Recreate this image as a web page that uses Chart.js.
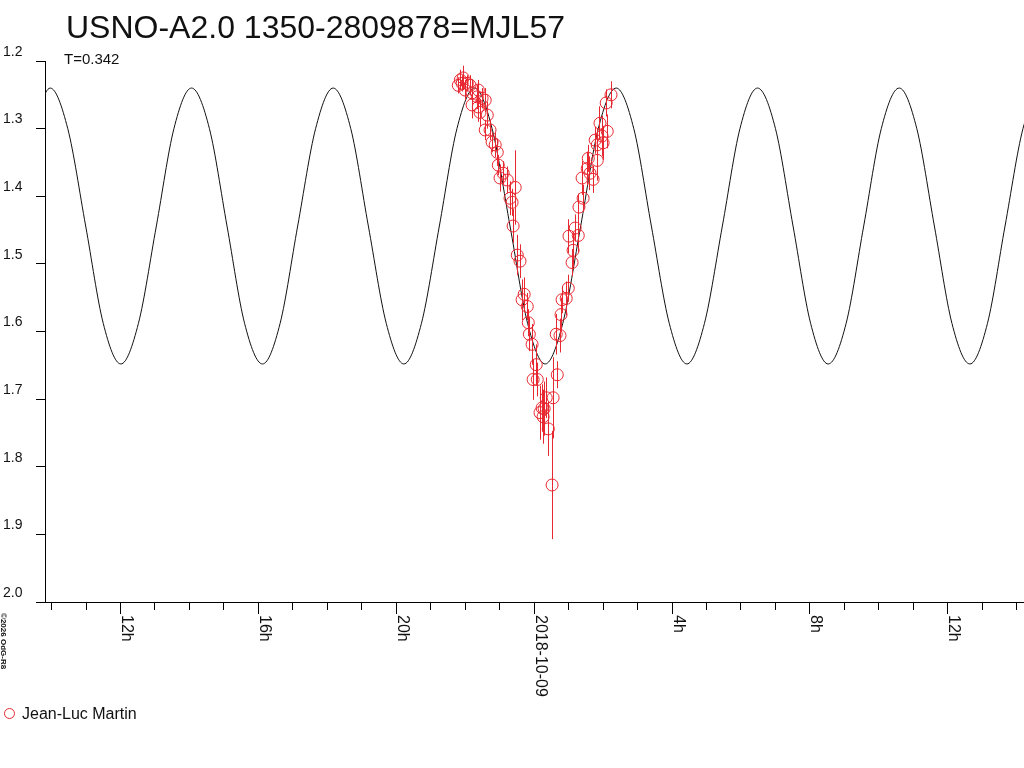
<!DOCTYPE html>
<html>
<head>
<meta charset="utf-8">
<script src="https://cdn.jsdelivr.net/npm/chart.js@4.4.1/dist/chart.umd.min.js"></script>
<style>
  body { margin: 0; background: #fff; }
  #lc { display: block; }
</style>
</head>
<body>
<canvas id="lc" width="1024" height="768"></canvas>
<script>
// hours relative to 2018-10-09 00:00 UT
const titleText = 'USNO-A2.0 1350-2809878=MJL57';
const periodText = 'T=0.342';
const observer = 'Jean-Luc Martin';

const xTickHours = [-12, -8, -4, 0, 4, 8, 12];
const xTickLabels = ['12h', '16h', '20h', '2018-10-09', '4h', '8h', '12h'];

// model light curve
const curveTime = [-14.55, -14.04, -13.53, -13.01, -12.50, -11.99, -11.48, -10.96, -10.45,
  -9.94, -9.42, -8.91, -8.40, -7.88, -7.37, -6.86, -6.34,
  -5.83, -5.32, -4.81, -4.29, -3.78, -3.27, -2.75, -2.24,
  -1.73, -1.22, -0.70, -0.19, 0.32, 0.83, 1.35, 1.86,
  2.38, 2.89, 3.40, 3.92, 4.43, 4.94, 5.46, 5.97,
  6.48, 7.00, 7.51, 8.02, 8.53, 9.05, 9.56, 10.07,
  10.59, 11.10, 11.61, 12.12, 12.64, 13.15, 13.66, 14.18, 14.69];
const curveMag = [1.300,
  1.240, 1.300, 1.444, 1.588, 1.648, 1.588, 1.444, 1.300,
  1.240, 1.300, 1.444, 1.588, 1.648, 1.588, 1.444, 1.300,
  1.240, 1.300, 1.444, 1.588, 1.648, 1.588, 1.444, 1.300,
  1.240, 1.300, 1.444, 1.588, 1.648, 1.588, 1.444, 1.300,
  1.240, 1.300, 1.444, 1.588, 1.648, 1.588, 1.444, 1.300,
  1.240, 1.300, 1.444, 1.588, 1.648, 1.588, 1.444, 1.300,
  1.240, 1.300, 1.444, 1.588, 1.648, 1.588, 1.444, 1.300,
  1.240];

// observations
const obsTime = [-2.20, -2.14, -2.09, -2.06, -2.00, -1.94, -1.86, -1.80, -1.80, -1.65,
  -1.62, -1.62, -1.57, -1.51, -1.42, -1.42, -1.36, -1.28, -1.22, -1.13,
  -1.07, -1.04, -0.99, -0.90, -0.78, -0.70, -0.64, -0.61, -0.55, -0.49,
  -0.41, -0.35, -0.29, -0.20, -0.17, -0.14, -0.06, -0.03, 0.06, 0.09,
  0.17, 0.23, 0.26, 0.29, 0.35, 0.41, 0.52, 0.55, 0.64, 0.67,
  0.75, 0.78, 0.81, 0.93, 0.99, 1.01, 1.10, 1.13, 1.19, 1.28,
  1.30, 1.39, 1.42, 1.54, 1.57, 1.62, 1.71, 1.77, 1.83, 1.83,
  1.91, 1.97, 2.00, 2.09, 2.12, 2.23];
const obsMag = [1.236, 1.228, 1.233, 1.225, 1.243, 1.233, 1.236, 1.247, 1.265, 1.253,
  1.243, 1.268, 1.276, 1.255, 1.258, 1.302, 1.280, 1.302, 1.320, 1.324,
  1.335, 1.354, 1.373, 1.366, 1.376, 1.403, 1.409, 1.444, 1.387, 1.487,
  1.496, 1.553, 1.545, 1.563, 1.587, 1.604, 1.619, 1.671, 1.649, 1.671,
  1.720, 1.713, 1.726, 1.714, 1.698, 1.744, 1.827, 1.698, 1.604, 1.664,
  1.606, 1.575, 1.553, 1.551, 1.536, 1.459, 1.498, 1.480, 1.447, 1.458,
  1.416, 1.373, 1.403, 1.359, 1.344, 1.366, 1.375, 1.317, 1.324, 1.347,
  1.292, 1.311, 1.321, 1.262, 1.304, 1.250];
const obsErr = [0.012, 0.015, 0.012, 0.018, 0.015, 0.012, 0.015, 0.020, 0.020, 0.018,
  0.015, 0.022, 0.020, 0.015, 0.018, 0.015, 0.020, 0.015, 0.015, 0.018,
  0.020, 0.015, 0.020, 0.018, 0.020, 0.025, 0.020, 0.025, 0.055, 0.030,
  0.025, 0.030, 0.025, 0.020, 0.020, 0.025, 0.030, 0.030, 0.030, 0.025,
  0.040, 0.035, 0.040, 0.040, 0.030, 0.040, 0.080, 0.060, 0.030, 0.020,
  0.025, 0.025, 0.020, 0.025, 0.020, 0.025, 0.020, 0.025, 0.020, 0.025,
  0.020, 0.025, 0.020, 0.025, 0.020, 0.025, 0.020, 0.020, 0.025, 0.030,
  0.025, 0.030, 0.025, 0.020, 0.025, 0.020];

const red = 'rgb(232,40,48)';
const fontName = "'Liberation Sans', Arial, sans-serif";

const curvePts = curveTime.map((t, i) => ({x: t, y: curveMag[i]}));
const obsPts = obsTime.map((t, i) => ({x: t, y: obsMag[i]}));

// same rounding chart.js uses for 1px lines
const crisp = p => Math.round(p - 0.5) + 0.5;

const decor = {
  id: 'decor',
  afterDatasetsDraw(chart) {
    const ctx = chart.ctx, xs = chart.scales.x, ys = chart.scales.y;
    ctx.save();
    ctx.strokeStyle = red;
    ctx.lineWidth = 1;
    ctx.beginPath();
    for (let i = 0; i < obsTime.length; i++) {
      const px = crisp(xs.getPixelForValue(obsTime[i]));
      ctx.moveTo(px, ys.getPixelForValue(obsMag[i] - obsErr[i]));
      ctx.lineTo(px, ys.getPixelForValue(obsMag[i] + obsErr[i]));
    }
    ctx.stroke();
    ctx.restore();
  },
  afterDraw(chart) {
    const ctx = chart.ctx, xs = chart.scales.x;
    const bottom = chart.chartArea.bottom;
    ctx.save();
    ctx.fillStyle = '#111';
    ctx.font = '32px ' + fontName;
    ctx.textBaseline = 'alphabetic';
    ctx.fillText(titleText, 66, 38);
    ctx.font = '15px ' + fontName;
    ctx.fillText(periodText, 64, 64);

    // longer major ticks + rotated labels
    ctx.strokeStyle = '#000';
    ctx.lineWidth = 1;
    ctx.font = '16px ' + fontName;
    xTickHours.forEach((h, i) => {
      const px = crisp(xs.getPixelForValue(h));
      ctx.beginPath();
      ctx.moveTo(px, bottom);
      ctx.lineTo(px, bottom + 12);
      ctx.stroke();
      ctx.save();
      ctx.translate(px + 1, bottom + 13);
      ctx.rotate(Math.PI / 2);
      ctx.textAlign = 'left';
      ctx.fillText(xTickLabels[i], 0, 0);
      ctx.restore();
    });

    // small credit, rotated
    ctx.save();
    ctx.font = 'bold 8px ' + fontName;
    ctx.translate(1, 613);
    ctx.rotate(Math.PI / 2);
    ctx.fillText('\u00a92026 OdG-R8', 0, 0);
    ctx.restore();

    // legend
    ctx.strokeStyle = red;
    ctx.beginPath();
    ctx.arc(9.5, 713.5, 5, 0, Math.PI * 2);
    ctx.stroke();
    ctx.font = '16px ' + fontName;
    ctx.fillStyle = '#111';
    ctx.fillText(observer, 22, 719);
    ctx.restore();
  }
};

new Chart(document.getElementById('lc'), {
  type: 'scatter',
  data: {
    datasets: [
      {
        label: observer,
        data: obsPts,
        pointStyle: 'circle',
        pointRadius: 6,
        pointHoverRadius: 6,
        borderWidth: 1,
        borderColor: red,
        backgroundColor: 'rgba(0,0,0,0)',
        order: 0
      },
      {
        label: 'model',
        data: curvePts,
        showLine: true,
        pointRadius: 0,
        borderColor: '#111',
        borderWidth: 1,
        cubicInterpolationMode: 'monotone',
        order: 1
      }
    ]
  },
  options: {
    responsive: false,
    devicePixelRatio: 1,
    animation: false,
    events: [],
    layout: { autoPadding: false, padding: { left: 3, top: 61, right: 0, bottom: 0 } },
    plugins: {
      legend: { display: false },
      title: { display: false },
      tooltip: { enabled: false }
    },
    scales: {
      x: {
        type: 'linear',
        min: -14.19,
        max: 14.21,
        ticks: { stepSize: 1, includeBounds: false, display: false },
        grid: { drawOnChartArea: false, drawTicks: true, tickLength: 8, color: '#000' },
        border: { color: '#000', width: 1 },
        afterFit: s => { s.height = 166; }
      },
      y: {
        type: 'linear',
        reverse: true,
        min: 1.2,
        max: 2.0,
        ticks: {
          stepSize: 0.1,
          color: '#111',
          font: { family: fontName, size: 14 },
          crossAlign: 'far',
          labelOffset: -9,
          callback: v => Number(v).toFixed(1)
        },
        grid: { drawOnChartArea: false, drawTicks: true, tickLength: 9, color: '#000' },
        border: { color: '#000', width: 1 },
        afterFit: s => { s.width = 42; }
      }
    }
  },
  plugins: [decor]
});
</script>
</body>
</html>
